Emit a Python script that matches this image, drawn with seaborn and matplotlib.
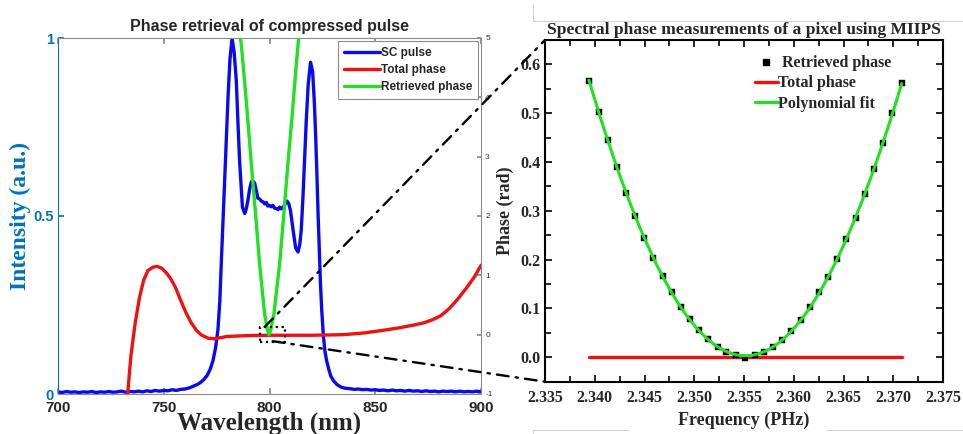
import numpy as np
import pandas as pd
import matplotlib
matplotlib.use("Agg")
import matplotlib.pyplot as plt
import seaborn as sns
from matplotlib.patches import ConnectionPatch, Rectangle
from matplotlib.lines import Line2D
from matplotlib.ticker import MultipleLocator

# ---------------- data: left panel (compressed pulse) ----------------
sc_wavelength = [
    700, 702, 704, 706, 708, 710, 712, 714, 716, 718, 720, 722, 724, 726, 728, 730,
    732, 734, 736, 738, 740, 742, 744, 746, 748, 750, 752, 754, 756, 758, 760, 762,
    764, 766, 767.5, 769, 770.5, 772, 773.3, 774.5, 775.6, 776.5, 777.2, 778, 778.8,
    779.6, 780.4, 781.3, 782.3, 783.3, 784.3, 785.1, 785.9, 787.2, 788.3, 789.0,
    789.8, 790.6, 791.4, 792.2, 793, 793.8, 794.5, 795.3, 796.1, 796.9, 797.7, 798.5,
    799.2, 800, 800.8, 801.6, 802.4, 803.2, 804, 804.8, 805.6, 806.4, 807.3, 808.3,
    809.1, 809.9, 810.6, 811.4, 812.4, 813.5, 814.3, 815, 815.8, 816.6, 817.4, 818.3,
    819.4, 820.4, 821.2, 821.8, 822.4, 823, 823.6, 824.1, 824.7, 825.4, 826.2, 827,
    828, 829, 830.3, 832, 834, 836, 838, 840, 842, 844, 846, 848, 850, 852, 854, 856,
    858, 860, 862, 864, 866, 868, 870, 872, 874, 876, 878, 880, 882, 884, 886, 888,
    890, 892, 894, 896, 898, 900,
]
sc_intensity = [
    0.006, 0.004, 0.007, 0.005, 0.006, 0.004, 0.006, 0.005, 0.007, 0.004, 0.006, 0.005,
    0.007, 0.005, 0.006, 0.008, 0.005, 0.007, 0.006, 0.008, 0.006, 0.009, 0.007, 0.010,
    0.008, 0.010, 0.009, 0.012, 0.010, 0.013, 0.014, 0.017, 0.022, 0.027, 0.033, 0.041,
    0.052, 0.070, 0.094, 0.130, 0.179, 0.260, 0.367, 0.480, 0.600, 0.720, 0.835, 0.940,
    1.000, 0.960, 0.880, 0.760, 0.650, 0.525, 0.507, 0.520, 0.544, 0.575, 0.596, 0.598,
    0.592, 0.570, 0.550, 0.548, 0.542, 0.540, 0.534, 0.538, 0.528, 0.530, 0.526, 0.530,
    0.522, 0.521, 0.518, 0.525, 0.520, 0.524, 0.532, 0.542, 0.535, 0.516, 0.485, 0.450,
    0.410, 0.399, 0.420, 0.460, 0.550, 0.660, 0.770, 0.870, 0.932, 0.905, 0.820, 0.730,
    0.620, 0.500, 0.400, 0.310, 0.235, 0.170, 0.120, 0.094, 0.070, 0.050, 0.037, 0.026,
    0.019, 0.016, 0.015, 0.013, 0.014, 0.012, 0.013, 0.011, 0.012, 0.010, 0.011, 0.009,
    0.011, 0.009, 0.010, 0.008, 0.010, 0.008, 0.009, 0.007, 0.009, 0.007, 0.008, 0.006,
    0.008, 0.007, 0.008, 0.006, 0.008, 0.006, 0.007, 0.006, 0.008, 0.006,
]

total_wavelength = [
    732.8, 734.5, 736.5, 738.5, 740.5, 742.5, 745, 747, 749, 751, 753, 755.5, 758,
    760.5, 763, 765.5, 768, 771, 774, 777, 780, 790, 800, 820, 835, 845, 855, 862,
    868, 873, 877, 881, 885, 889, 893, 897, 900,
]
total_phase = [
    -1.05, -0.35, 0.20, 0.62, 0.92, 1.08, 1.14, 1.15, 1.12, 1.05, 0.96, 0.80, 0.58,
    0.37, 0.20, 0.07, -0.01, -0.06, -0.07, -0.05, -0.03, -0.015, -0.01, -0.01, 0.0,
    0.03, 0.08, 0.12, 0.16, 0.20, 0.25, 0.32, 0.44, 0.60, 0.78, 0.98, 1.17,
]

retrieved_wavelength = [
    785.8, 787.5, 789.5, 791.4, 793.4, 795.3, 797.7, 799.0, 799.8, 800.6, 802.1,
    804.8, 806.8, 808.7, 810.8, 812.7, 814.3,
]
retrieved_phase = [
    5.2, 4.57, 3.73, 2.88, 2.04, 1.20, 0.35, 0.08, 0.0, 0.08, 0.35, 1.20, 2.04, 2.88,
    3.73, 4.57, 5.2,
]

# ---------------- data: right panel (one pixel, MIIPS) ----------------
pixel_frequency = [
    2.33942, 2.34042, 2.34133, 2.34223, 2.34313, 2.34404, 2.34498, 2.34588, 2.34682,
    2.34772, 2.34862, 2.34956, 2.35050, 2.35140, 2.35234, 2.35324, 2.35418, 2.35512,
    2.35609, 2.35699, 2.35793, 2.35883, 2.35977, 2.36071, 2.36161, 2.36255, 2.36345,
    2.36439, 2.36529, 2.36623, 2.36713, 2.36807, 2.36898, 2.36991, 2.37085,
]
pixel_phase = [
    0.566, 0.503, 0.445, 0.389, 0.336, 0.289, 0.245, 0.204, 0.166, 0.133, 0.104,
    0.078, 0.056, 0.037, 0.022, 0.011, 0.004, -0.001, 0.005, 0.011, 0.022, 0.036,
    0.054, 0.077, 0.104, 0.133, 0.165, 0.202, 0.242, 0.286, 0.334, 0.385, 0.440,
    0.500, 0.561,
]
pixel_total_frequency = [2.33942, 2.37085]
pixel_total_phase = [0.0, 0.0]

left_xticks = [700, 750, 800, 850, 900]
right_xticks = [2.335, 2.340, 2.345, 2.350, 2.355, 2.360, 2.365, 2.370, 2.375]
right_yticks = [0.0, 0.1, 0.2, 0.3, 0.4, 0.5, 0.6]

# ---------------- style ----------------
sns.set_theme(style="ticks")
plt.rcParams['font.family'] = ['Liberation Sans', 'DejaVu Sans']
SERIF = 'Liberation Serif'
MBLUE = '#0072BD'
BLUE = '#0a0af0'
RED = '#f01010'
GREEN = '#22e022'
GREY = '#8a8a8a'

W, H = 963, 434
fig = plt.figure(figsize=(W / 100, H / 100), dpi=100)
fig.patch.set_facecolor('white')


def px_rect(x0, y0, x1, y1):
    return [x0 / W, 1 - y1 / H, (x1 - x0) / W, (y1 - y0) / H]


# ================= left panel =================
ax1 = fig.add_axes(px_rect(58, 38, 481, 394))
ax1r = ax1.twinx()

sns.lineplot(x=sc_wavelength, y=sc_intensity, ax=ax1, color=BLUE, lw=2.4,
             sort=False, estimator=None)
sns.lineplot(x=total_wavelength, y=total_phase, ax=ax1r, color=RED, lw=2.4,
             sort=False, estimator=None)
sns.lineplot(x=retrieved_wavelength, y=retrieved_phase, ax=ax1r, color=GREEN,
             lw=2.4, sort=False, estimator=None)

ax1.set_xlim(700, 900)
ax1.set_ylim(0, 1)
ax1r.set_ylim(-1, 5)

ax1.set_xticks(left_xticks, [str(v) for v in left_xticks], fontweight='bold',
               fontsize=11)
ax1.set_yticks([0, 0.5, 1], ['0', '0.5', '1'], fontweight='bold', fontsize=10.5,
               color=MBLUE)
ax1.tick_params(axis='x', direction='in', top=True, length=4, color=GREY, pad=5)
ax1.tick_params(axis='y', direction='in', length=4, color=MBLUE, pad=3)
ax1r.set_yticks(range(-1, 6), [str(v) for v in range(-1, 6)], fontsize=6,
                color='#333333')
ax1r.tick_params(axis='y', direction='in', length=3, color=GREY, pad=3)

for sp in ('top', 'bottom'):
    ax1.spines[sp].set_color(GREY)
    ax1.spines[sp].set_linewidth(0.8)
ax1.spines['left'].set_color(MBLUE)
ax1.spines['left'].set_linewidth(0.8)
ax1.spines['right'].set_visible(False)
for sp in ('top', 'bottom', 'left'):
    ax1r.spines[sp].set_visible(False)
ax1r.spines['right'].set_color(GREY)
ax1r.spines['right'].set_linewidth(0.8)

ax1.set_xlabel('Wavelength (nm)', fontfamily=SERIF, fontweight='bold',
               fontsize=18, labelpad=-2.5)
ax1.set_ylabel('Intensity (a.u.)', fontfamily=SERIF, fontweight='bold',
               fontsize=17, color=MBLUE, labelpad=2)
ax1r.set_ylabel('')
ax1.set_title('Phase retrieval of compressed pulse', fontweight='bold',
              fontsize=11.5, pad=5)

left_handles = [
    Line2D([], [], color=BLUE, lw=2.4, label='SC pulse'),
    Line2D([], [], color=RED, lw=2.4, label='Total phase'),
    Line2D([], [], color=GREEN, lw=2.4, label='Retrieved phase'),
]
leg1 = ax1r.legend(handles=left_handles, loc='upper right',
                   prop={'weight': 'bold', 'size': 8.5}, frameon=True,
                   fancybox=False, edgecolor=GREY, framealpha=1,
                   handlelength=3.0, handletextpad=0.1, labelspacing=0.45,
                   borderpad=0.5, borderaxespad=0.25)
leg1.get_frame().set_linewidth(0.8)

# dotted zoom box around the phase minimum
zoom_box = Rectangle((795.7, -0.125), 11.5, 0.25, fill=False, ls=':', lw=1.6,
                     ec='black', zorder=5)
ax1r.add_patch(zoom_box)

# ================= right panel =================
ax2 = fig.add_axes(px_rect(545, 40, 943, 381.7))

coef = np.polyfit(pixel_frequency, pixel_phase, 4)
fit_f = np.linspace(min(pixel_frequency), max(pixel_frequency), 300)
fit_df = pd.DataFrame({'f': fit_f, 'phase': np.polyval(coef, fit_f)})

sns.lineplot(x=pixel_total_frequency, y=pixel_total_phase, ax=ax2, color=RED,
             lw=2.4, sort=False, estimator=None)
sns.scatterplot(x=pixel_frequency, y=pixel_phase, ax=ax2, marker='s', s=14,
                color='black', edgecolor='black', linewidth=0.3, zorder=3)
sns.lineplot(data=fit_df, x='f', y='phase', ax=ax2, color=GREEN, lw=2.2,
             sort=False, estimator=None, zorder=4)

ax2.set_xlim(2.335, 2.375)
ax2.set_ylim(-0.05, 0.65)
ax2.set_xticks(right_xticks, [f'{v:.3f}' for v in right_xticks],
               fontfamily=SERIF, fontweight='bold', fontsize=11.5)
ax2.set_yticks(right_yticks, [f'{v:.1f}' for v in right_yticks],
               fontfamily=SERIF, fontweight='bold', fontsize=11.5)
ax2.xaxis.set_minor_locator(MultipleLocator(0.0025))
ax2.yaxis.set_minor_locator(MultipleLocator(0.05))
ax2.tick_params(which='both', direction='in', top=True, right=True, width=1.2,
                color='black')
ax2.tick_params(which='major', length=5)
ax2.tick_params(which='minor', length=4)
ax2.tick_params(axis='x', which='both', pad=6)
ax2.tick_params(axis='y', which='both', pad=3)
for sp in ax2.spines.values():
    sp.set_color('black')
    sp.set_linewidth(1.5)

ax2.set_xlabel('Frequency (PHz)', fontfamily=SERIF, fontweight='bold',
               fontsize=13, labelpad=4)
ax2.set_ylabel('Phase (rad)', fontfamily=SERIF, fontweight='bold', fontsize=13,
               labelpad=5)
ax2.set_title('Spectral phase measurements of a pixel using MIIPS',
              fontfamily=SERIF, fontweight='bold', fontsize=12.6, pad=4)

right_handles = [
    Line2D([], [], ls='none', marker='s', ms=4, color='black',
           label=' Retrieved phase'),
    Line2D([], [], color=RED, lw=2.4, label='Total phase'),
    Line2D([], [], color=GREEN, lw=2.4, label='Polynomial fit'),
]
ax2.legend(handles=right_handles, loc='upper left', bbox_to_anchor=(0.52, 0.965),
           frameon=False, prop={'family': SERIF, 'weight': 'bold', 'size': 11.5},
           handlelength=1.4, handletextpad=0.05, labelspacing=0.27,
           borderpad=0.2, borderaxespad=0)

# ================= dash-dot connectors =================
dashdot = (0, (5, 3, 1, 3))
for xyA, xyB in [((797.7, 0.13), (0, 1)), ((801.5, -0.11), (0, 0))]:
    con = ConnectionPatch(xyA=xyA, coordsA=ax1r.transData, xyB=xyB,
                          coordsB=ax2.transAxes, color='black', lw=1.7,
                          linestyle=dashdot)
    fig.add_artist(con)

# thin grey frame lines around the right panel
frame_segments = [
    ((533, 20.7), (963, 20.7)), ((533, 5), (533, 20.7)),
    ((533, 430), (628, 430)), ((827, 430), (963, 430)), ((533, 430), (533, 434)),
]
for (xa, ya), (xb, yb) in frame_segments:
    fig.add_artist(Line2D([xa / W, xb / W], [1 - ya / H, 1 - yb / H],
                          transform=fig.transFigure, color='#d2d2d2', lw=0.8))

fig.savefig('out.png', dpi=100, facecolor='white')
